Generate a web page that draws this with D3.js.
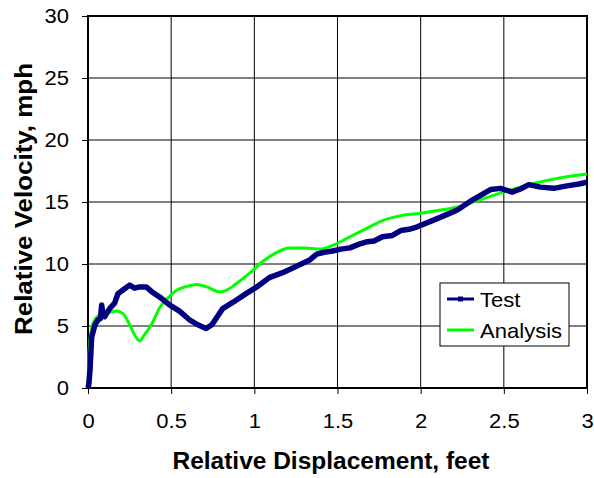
<!DOCTYPE html>
<html><head><meta charset="utf-8">
<script src="https://cdn.jsdelivr.net/npm/d3@7/dist/d3.min.js"></script>
<style>
html,body{margin:0;padding:0;background:#fff;}
text{font-family:"Liberation Sans",Arial,sans-serif;}
</style></head>
<body><svg id="c" width="594" height="478"></svg>
<script>
const xTicks = [0, 0.5, 1, 1.5, 2, 2.5, 3];
const yTicks = [0, 5, 10, 15, 20, 25, 30];
const xTickLabels = ["0", "0.5", "1", "1.5", "2", "2.5", "3"];
const yTickLabels = ["0", "5", "10", "15", "20", "25", "30"];

const testX = [0, 0.005, 0.012, 0.022, 0.042, 0.06, 0.075, 0.082, 0.09, 0.10, 0.13, 0.16, 0.18, 0.21, 0.25, 0.28, 0.31, 0.35, 0.39, 0.44, 0.49, 0.55, 0.61, 0.66, 0.71, 0.745, 0.775, 0.81, 0.87, 0.955, 1.015, 1.09, 1.17, 1.25, 1.33, 1.375, 1.42, 1.47, 1.52, 1.575, 1.63, 1.68, 1.72, 1.77, 1.83, 1.88, 1.93, 1.98, 2.07, 2.16, 2.22, 2.315, 2.42, 2.48, 2.55, 2.6, 2.65, 2.72, 2.80, 2.88, 2.95, 3.0];
const testY = [0, 0.3, 1.45, 4.1, 5.1, 5.5, 5.6, 6.7, 5.9, 5.75, 6.4, 6.85, 7.6, 7.9, 8.3, 8.05, 8.15, 8.15, 7.7, 7.25, 6.7, 6.2, 5.5, 5.1, 4.8, 5.1, 5.7, 6.4, 6.9, 7.65, 8.15, 8.9, 9.3, 9.8, 10.3, 10.8, 10.95, 11.05, 11.2, 11.3, 11.6, 11.8, 11.85, 12.2, 12.3, 12.7, 12.8, 13.0, 13.5, 14.0, 14.35, 15.2, 16.0, 16.1, 15.8, 16.05, 16.4, 16.2, 16.1, 16.3, 16.45, 16.6];

const analysisX = [0, 0.005, 0.015, 0.03, 0.07, 0.13, 0.17, 0.21, 0.25, 0.28, 0.31, 0.34, 0.385, 0.43, 0.48, 0.535, 0.595, 0.655, 0.715, 0.79, 0.835, 0.895, 0.975, 1.05, 1.13, 1.21, 1.3, 1.395, 1.47, 1.575, 1.68, 1.77, 1.88, 2.0, 2.12, 2.225, 2.315, 2.5, 2.68, 2.82, 3.0];
const analysisY = [0, 2.5, 4.3, 5.2, 5.9, 6.1, 6.2, 6.0, 5.1, 4.3, 3.8, 4.3, 5.2, 6.45, 7.25, 7.9, 8.2, 8.35, 8.15, 7.75, 7.9, 8.45, 9.3, 10.2, 10.9, 11.3, 11.3, 11.2, 11.5, 12.2, 12.9, 13.5, 13.9, 14.1, 14.35, 14.6, 15.0, 15.8, 16.5, 16.9, 17.25];

const svg = d3.select("#c");
const L = 88, R = 587, T = 16, B = 388;
const x = d3.scaleLinear().domain([0, 3]).range([L, R]);
const y = d3.scaleLinear().domain([0, 30]).range([B, T]);

function stretch(sel, k) {
  sel.each(function () {
    const w = this.getComputedTextLength();
    d3.select(this).attr("textLength", w * k).attr("lengthAdjust", "spacingAndGlyphs");
  });
}

// gridlines
svg.append("g").selectAll("line").data(xTicks.slice(1, -1)).join("line")
  .attr("x1", d => x(d)).attr("x2", d => x(d)).attr("y1", T).attr("y2", B)
  .attr("stroke", "#000").attr("stroke-width", 1);
svg.append("g").selectAll("line").data(yTicks.slice(1, -1)).join("line")
  .attr("x1", L).attr("x2", R).attr("y1", d => y(d)).attr("y2", d => y(d))
  .attr("stroke", "#000").attr("stroke-width", 1);

// axes
const xAxis = d3.axisBottom(x).tickValues(xTicks).tickSize(6).tickPadding(20)
  .tickFormat((d, i) => xTickLabels[i]);
const gx = svg.append("g").attr("transform", `translate(0,${B})`).call(xAxis);
const yAxis = d3.axisLeft(y).tickValues(yTicks).tickSize(6).tickPadding(13)
  .tickFormat((d, i) => yTickLabels[i]);
const gy = svg.append("g").attr("transform", `translate(${L},0)`).call(yAxis);
[gx, gy].forEach(g => {
  g.select(".domain").remove();
  g.selectAll(".tick line").attr("stroke", "#000").attr("stroke-width", 1);
  g.selectAll(".tick text").attr("font-size", 20).attr("fill", "#000")
    .attr("font-family", "Liberation Sans, Arial, sans-serif");
  stretch(g.selectAll(".tick text"), 1.1);
});

// plot border
svg.append("rect").attr("x", L).attr("y", T).attr("width", R - L).attr("height", B - T)
  .attr("fill", "none").attr("stroke", "#000").attr("stroke-width", 2);

svg.append("clipPath").attr("id", "pc").append("rect")
  .attr("x", L - 4).attr("y", T).attr("width", R - L + 4).attr("height", B - T + 4);

// analysis line
const analysis = analysisX.map((d, i) => [d, analysisY[i]]);
svg.append("path").datum(analysis)
  .attr("d", d3.line().x(d => x(d[0])).y(d => y(d[1])).curve(d3.curveMonotoneX))
  .attr("fill", "none").attr("stroke", "#00ff00").attr("stroke-width", 3)
  .attr("clip-path", "url(#pc)");

// test line
const test = testX.map((d, i) => [d, testY[i]]);
svg.append("path").datum(test)
  .attr("d", d3.line().x(d => x(d[0])).y(d => y(d[1])).curve(d3.curveLinear))
  .attr("fill", "none").attr("stroke", "#000080").attr("stroke-width", 5.5)
  .attr("stroke-linejoin", "round").attr("clip-path", "url(#pc)");

// legend
const lg = svg.append("g");
lg.append("rect").attr("x", 440).attr("y", 283).attr("width", 129).attr("height", 63)
  .attr("fill", "#fff").attr("stroke", "#000").attr("stroke-width", 1);
const legendNames = ["Test", "Analysis"];
const legendColors = ["#000080", "#00ff00"];
legendNames.forEach((n, i) => {
  const yy = 299 + i * 31;
  lg.append("line").attr("x1", 447).attr("x2", 474).attr("y1", yy).attr("y2", yy)
    .attr("stroke", legendColors[i]).attr("stroke-width", 3);
  if (i === 0) {
    lg.append("rect").attr("x", 458).attr("y", yy - 2.5).attr("width", 5).attr("height", 5)
      .attr("fill", legendColors[i]);
  }
  const t = lg.append("text").attr("x", 480).attr("y", yy + 8).attr("font-size", 21)
    .attr("fill", "#000").text(n);
  stretch(t, 1.05);
});

// axis titles
svg.append("text").attr("x", 331).attr("y", 469).attr("text-anchor", "middle")
  .attr("font-size", 23).attr("font-weight", "bold")
  .attr("textLength", 317).attr("lengthAdjust", "spacingAndGlyphs")
  .text("Relative Displacement, feet");
svg.append("text").attr("transform", `translate(32,199) rotate(-90)`)
  .attr("text-anchor", "middle").attr("font-size", 23).attr("font-weight", "bold")
  .attr("textLength", 272).attr("lengthAdjust", "spacingAndGlyphs")
  .text("Relative Velocity, mph");
</script></body></html>
